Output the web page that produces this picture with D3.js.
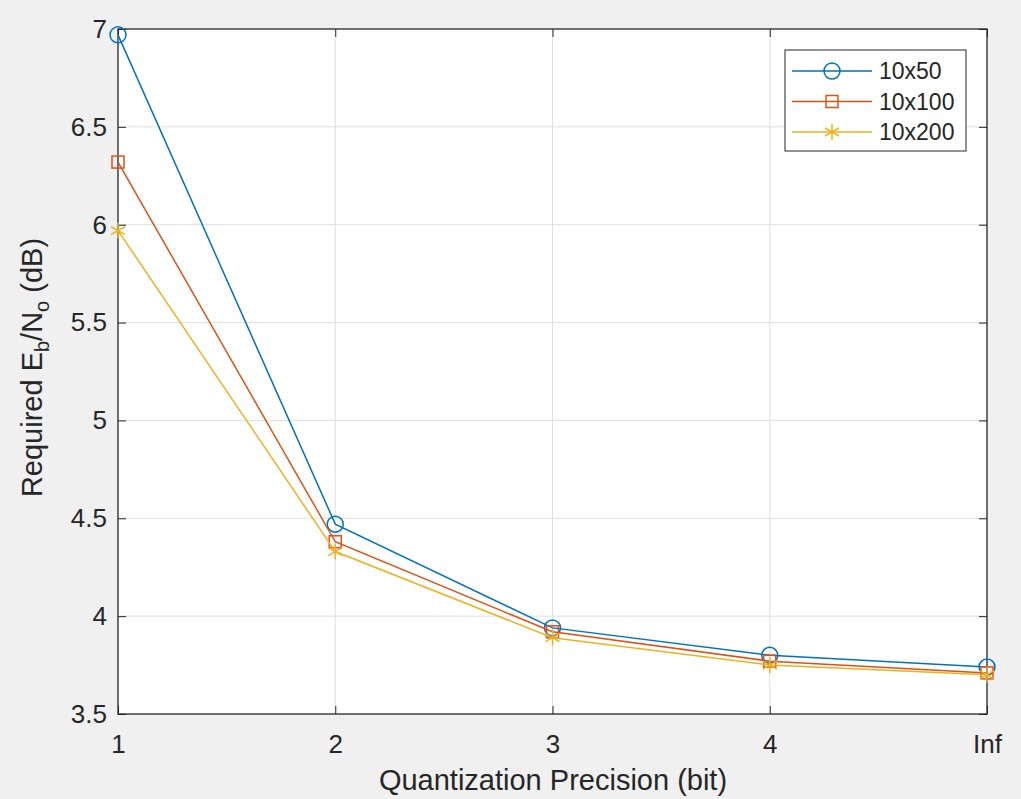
<!DOCTYPE html>
<html>
<head>
<meta charset="utf-8">
<script src="https://cdn.jsdelivr.net/npm/d3@7"></script>
<style>
  body { margin: 0; background: #f0f0f0; }
  svg { display: block; }
  text { font-family: "Liberation Sans", Arial, sans-serif; fill: #262626; }
</style>
</head>
<body>
<div id="chart"></div>
<script>
// data
var xLabels = ["1", "2", "3", "4", "Inf"];
var yTicks = [3.5, 4, 4.5, 5, 5.5, 6, 6.5, 7];
var seriesNames = ["10x50", "10x100", "10x200"];
var s10x50 = [6.97, 4.47, 3.94, 3.80, 3.74];
var s10x100 = [6.32, 4.38, 3.92, 3.77, 3.71];
var s10x200 = [5.97, 4.33, 3.89, 3.75, 3.70];
var colors = ["#0072bd", "#d95319", "#edb120"];
var markers = ["circle", "square", "star"];

var w = 1021, h = 799;
var margin = { top: 29, right: 34, bottom: 85, left: 118 };
var width = w - margin.left - margin.right,
    height = h - margin.top - margin.bottom;

var svg = d3.select("#chart").append("svg")
  .attr("width", w).attr("height", h);

svg.append("rect").attr("width", w).attr("height", h).attr("fill", "#f0f0f0");

var g = svg.append("g")
  .attr("transform", "translate(" + margin.left + "," + margin.top + ")");

var x = d3.scalePoint().domain(xLabels).range([0, width]);
var y = d3.scaleLinear().domain([3.5, 7]).range([height, 0]);

g.append("rect").attr("width", width).attr("height", height).attr("fill", "#fff");

// grid
g.append("g").selectAll("line").data(xLabels.slice(1, -1)).enter().append("line")
  .attr("x1", function (d) { return x(d); }).attr("x2", function (d) { return x(d); })
  .attr("y1", 0).attr("y2", height)
  .attr("stroke", "#dfdfdf").attr("stroke-width", 1);
g.append("g").selectAll("line").data(yTicks.slice(1, -1)).enter().append("line")
  .attr("y1", function (d) { return y(d); }).attr("y2", function (d) { return y(d); })
  .attr("x1", 0).attr("x2", width)
  .attr("stroke", "#dfdfdf").attr("stroke-width", 1);

// axes (ticks inward on all four sides)
function styleAxis(sel) {
  sel.select(".domain").remove();
  sel.selectAll(".tick line").attr("stroke", "#262626");
  sel.selectAll(".tick text").attr("font-size", "26px").attr("fill", "#262626")
    .attr("font-family", "Liberation Sans, Arial, sans-serif");
}
g.append("g").attr("transform", "translate(0," + height + ")")
  .call(d3.axisBottom(x).tickSize(-8).tickPadding(21))
  .call(styleAxis);
g.append("g")
  .call(d3.axisLeft(y).tickValues(yTicks).tickFormat(d3.format("")).tickSize(-8).tickPadding(11))
  .call(styleAxis);
g.append("g")
  .call(d3.axisTop(x).tickSize(-8).tickFormat(""))
  .call(styleAxis);
g.append("g").attr("transform", "translate(" + width + ",0)")
  .call(d3.axisRight(y).tickValues(yTicks).tickSize(-8).tickFormat(""))
  .call(styleAxis);

g.append("rect").attr("width", width).attr("height", height)
  .attr("fill", "none").attr("stroke", "#262626").attr("stroke-width", 1.3);

// series
var series = [s10x50, s10x100, s10x200];
var line = d3.line()
  .x(function (d, i) { return x(xLabels[i]); })
  .y(function (d) { return y(d); });

function drawMarker(sel, type, color) {
  if (type === "circle") {
    sel.append("circle").attr("r", 8).attr("fill", "none")
      .attr("stroke", color).attr("stroke-width", 1.5);
  } else if (type === "square") {
    sel.append("rect").attr("x", -6).attr("y", -6).attr("width", 12).attr("height", 12)
      .attr("fill", "none").attr("stroke", color).attr("stroke-width", 1.5);
  } else {
    sel.append("path")
      .attr("d", "M0,-8V8M-7,-4L7,4M-7,4L7,-4")
      .attr("stroke", color).attr("stroke-width", 1.5).attr("fill", "none");
  }
}

series.forEach(function (vals, k) {
  g.append("path").datum(vals).attr("d", line)
    .attr("fill", "none").attr("stroke", colors[k]).attr("stroke-width", 1.5);
  g.append("g").selectAll("g").data(vals).enter().append("g")
    .attr("transform", function (d, i) { return "translate(" + x(xLabels[i]) + "," + y(d) + ")"; })
    .each(function () { drawMarker(d3.select(this), markers[k], colors[k]); });
});

// axis labels
svg.append("text")
  .attr("x", margin.left + width / 2 + 0.5).attr("y", 790)
  .attr("text-anchor", "middle").attr("font-size", "29px")
  .text("Quantization Precision (bit)");

var yl = svg.append("text")
  .attr("transform", "translate(42," + (margin.top + height / 2 - 4) + ") rotate(-90)")
  .attr("text-anchor", "middle").attr("font-size", "29px");
yl.append("tspan").text("Required E");
yl.append("tspan").attr("font-size", "20px").attr("dy", 7).text("b");
yl.append("tspan").attr("dy", -7).text("/N");
yl.append("tspan").attr("font-size", "20px").attr("dy", 7).text("o");
yl.append("tspan").attr("dy", -7).text(" (dB)");

// legend
var lg = svg.append("g").attr("transform", "translate(785,50)");
lg.append("rect").attr("width", 181).attr("height", 101)
  .attr("fill", "#fff").attr("stroke", "#262626").attr("stroke-width", 1);
seriesNames.forEach(function (name, k) {
  var yy = 21 + k * 30.5;
  lg.append("line").attr("x1", 7).attr("x2", 87).attr("y1", yy).attr("y2", yy)
    .attr("stroke", colors[k]).attr("stroke-width", 1.5);
  var m = lg.append("g").attr("transform", "translate(47," + yy + ")");
  drawMarker(m, markers[k], colors[k]);
  lg.append("text").attr("x", 94).attr("y", yy + 8).attr("font-size", "23px").text(name);
});
</script>
</body>
</html>
